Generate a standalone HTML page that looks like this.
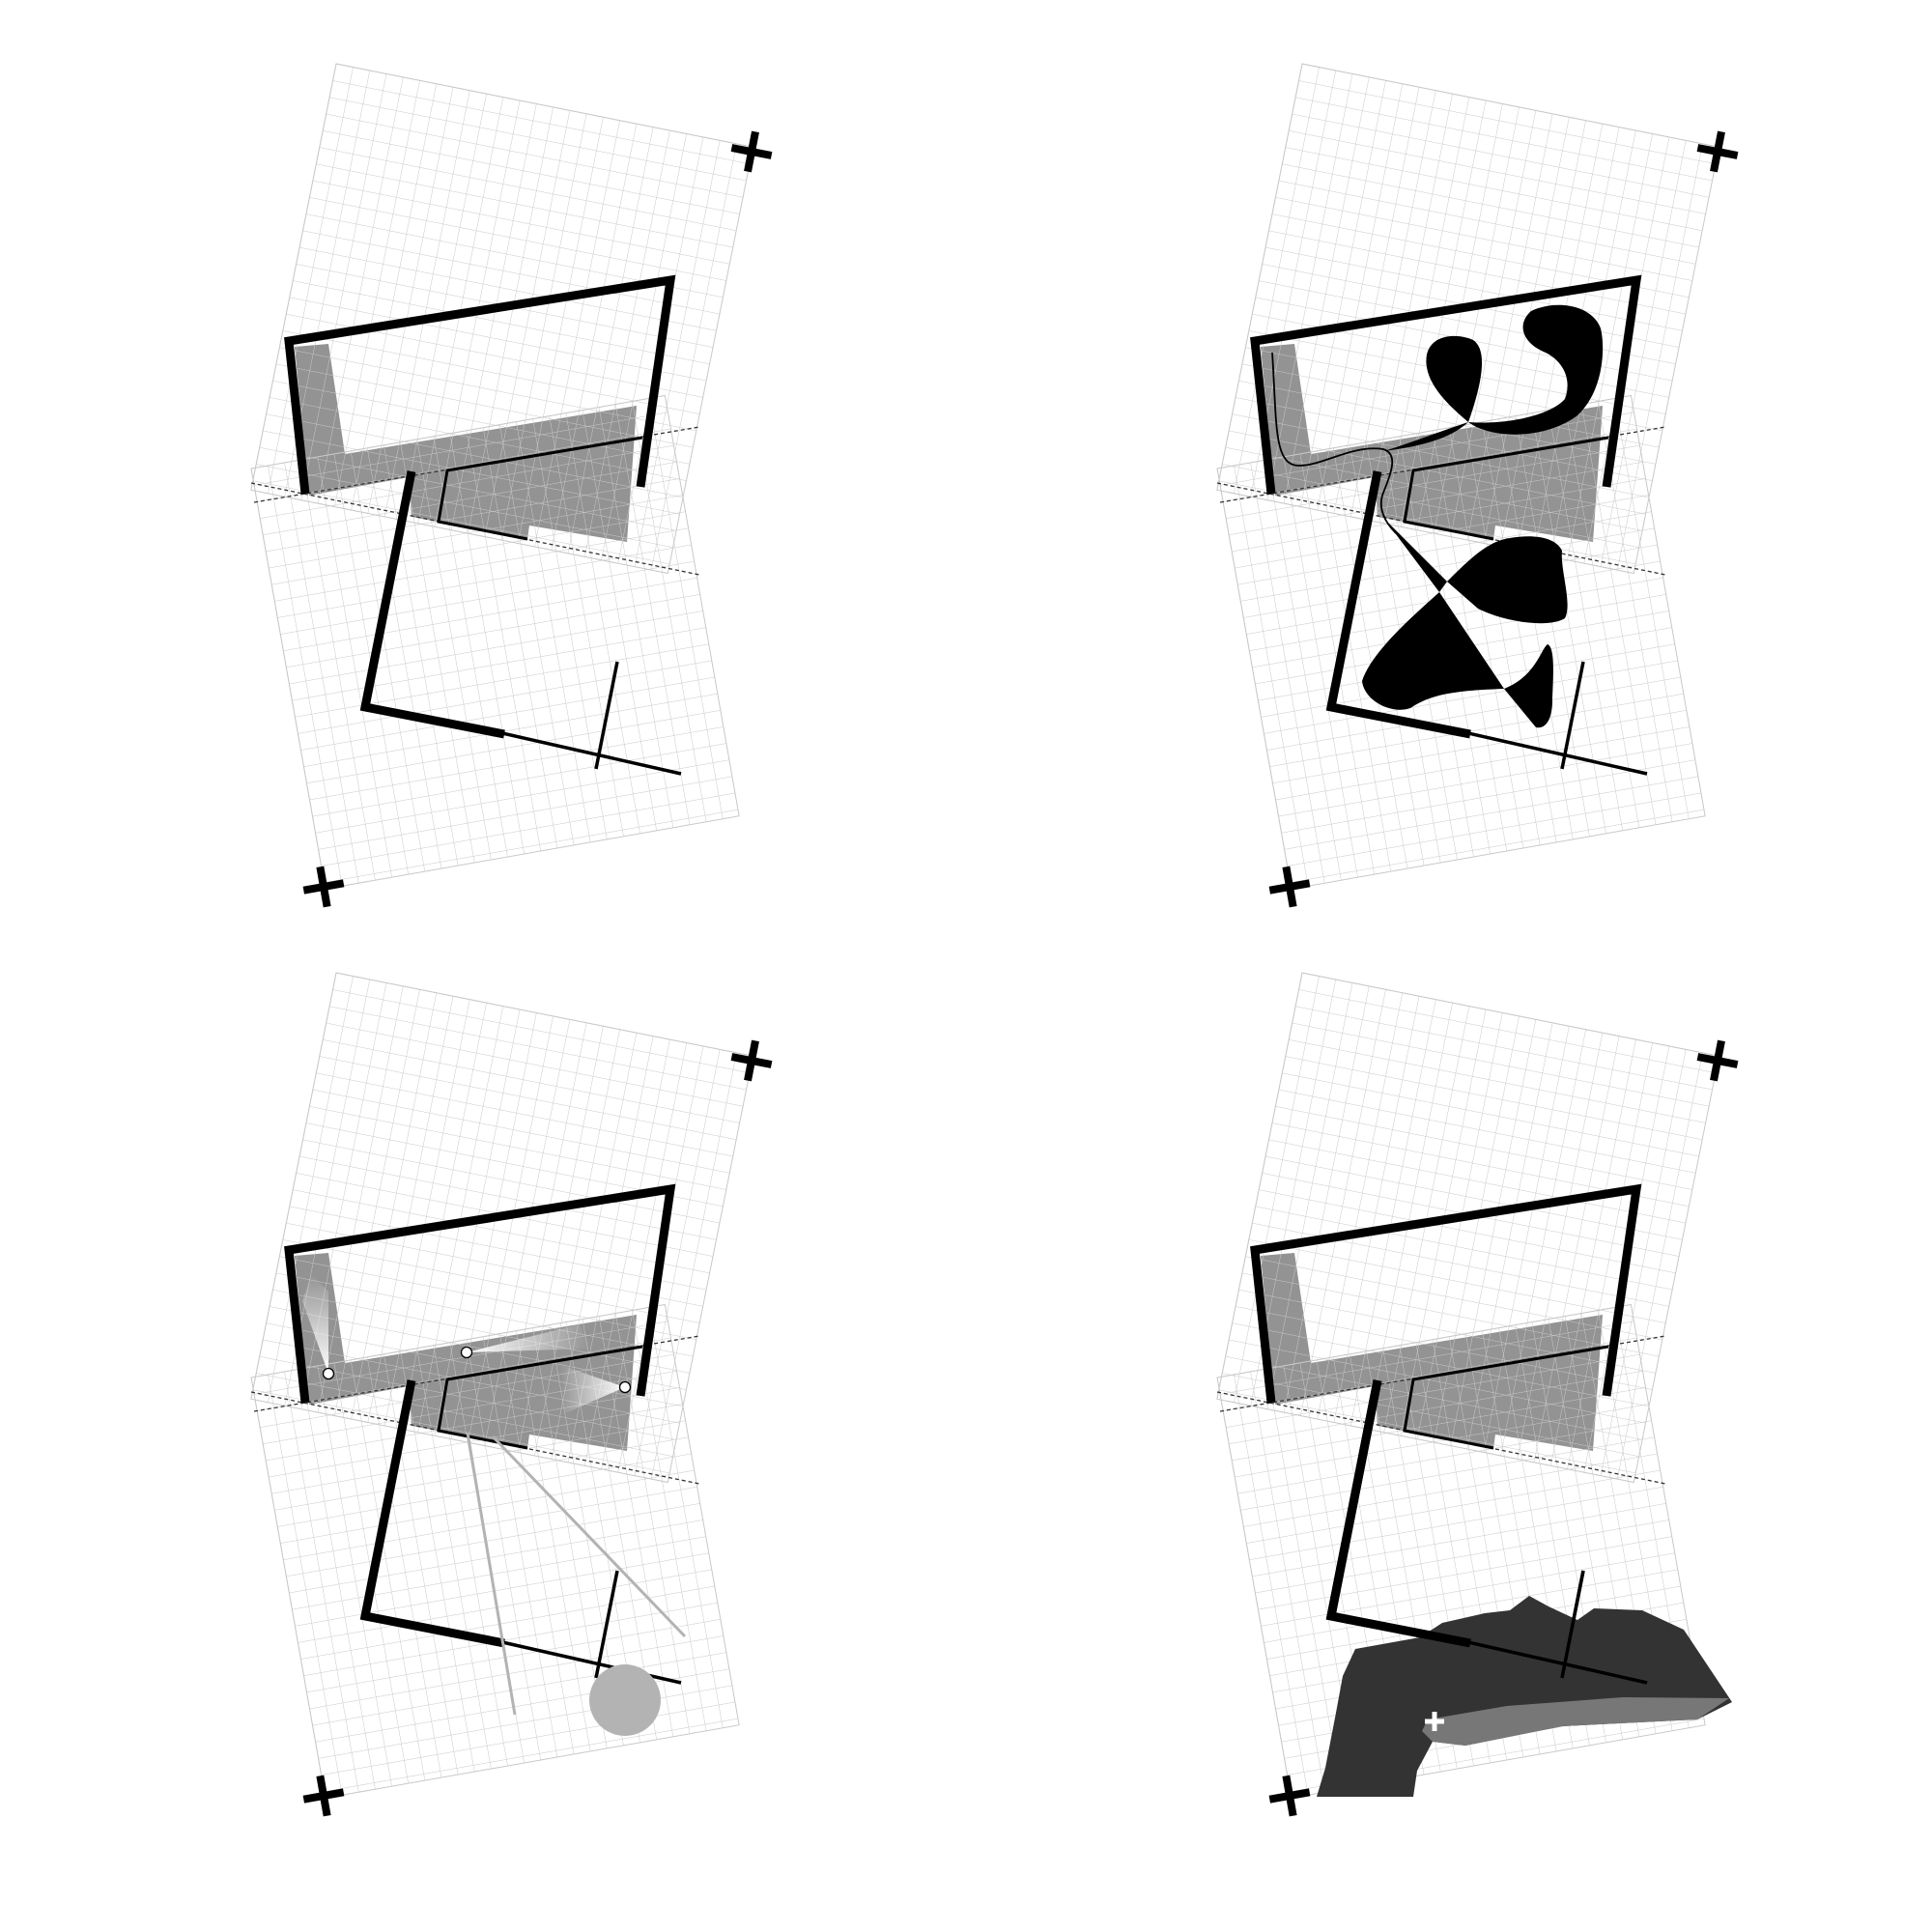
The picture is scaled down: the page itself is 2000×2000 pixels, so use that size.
<!DOCTYPE html>
<html><head><meta charset="utf-8"><style>html,body{margin:0;padding:0;background:#fff}svg{display:block}</style></head>
<body>
<svg width="2000" height="2000" viewBox="0 0 2000 2000" xmlns="http://www.w3.org/2000/svg">
<defs>
<pattern id="gA" width="17.6" height="17.6" patternUnits="userSpaceOnUse"><path d="M0 0H17.6M0 0V17.6" stroke="#c8c8c8" stroke-width="1" fill="none"/></pattern>
<pattern id="gB" width="17.4" height="17.4" patternUnits="userSpaceOnUse"><path d="M0 0H17.4M0 0V17.4" stroke="#c8c8c8" stroke-width="1" fill="none"/></pattern>
<linearGradient id="wg1" x1="0" y1="1" x2="0" y2="0"><stop offset="0" stop-color="#fff"/><stop offset="1" stop-color="#fff" stop-opacity="0"/></linearGradient>
<linearGradient id="wg2" x1="0" y1="0" x2="1" y2="0"><stop offset="0" stop-color="#fff"/><stop offset="1" stop-color="#fff" stop-opacity="0"/></linearGradient>
<linearGradient id="wg3" x1="1" y1="0" x2="0" y2="0"><stop offset="0" stop-color="#fff"/><stop offset="1" stop-color="#fff" stop-opacity="0"/></linearGradient>
<g id="base">
  <polygon points="305,359 340,356 357,470 659,420 649,561 548,544 546,558 426,535 423,494 320,513" fill="#939393"/>
  <g transform="translate(348,66) rotate(11.3)"><rect width="440" height="450" fill="url(#gA)" stroke="#c8c8c8"/></g>
  <g transform="translate(260,485) rotate(-10)"><rect width="435" height="442" fill="url(#gB)" stroke="#c8c8c8"/></g>
  <line x1="263" y1="520" x2="724" y2="442" stroke="#333" stroke-width="1.3" stroke-dasharray="4,3"/>
  <line x1="260" y1="500" x2="724" y2="595" stroke="#333" stroke-width="1.3" stroke-dasharray="4,3"/>
  <polyline points="316,511 299,353 694,290 663,504" fill="none" stroke="#000" stroke-width="9" stroke-linejoin="miter"/>
  <polyline points="426,488 378,732 522,760" fill="none" stroke="#000" stroke-width="9"/>
  <line x1="520" y1="759" x2="705" y2="801" stroke="#000" stroke-width="3.5"/>
  <line x1="639" y1="685" x2="617" y2="796" stroke="#000" stroke-width="3.5"/>
  <polyline points="665,453 463,487 454,540 546,558" fill="none" stroke="#000" stroke-width="3"/>
  <g transform="translate(778,157) rotate(11)"><rect x="-21" y="-4" width="42" height="8"/><rect x="-4" y="-21" width="8" height="42"/></g>
  <g transform="translate(335,918) rotate(-10)"><rect x="-21" y="-4" width="42" height="8"/><rect x="-4" y="-21" width="8" height="42"/></g>
</g>
</defs>

<use href="#base"/>

<g transform="translate(1000,0)">
<use href="#base"/>
<path d="M520,437 C500,420 472,395 477,367 C482,345 510,345 525,352 C540,362 535,395 520,437 Z"/>
<path d="M520,437 C545,455 600,455 633,430 C660,405 662,360 657,340 C648,315 610,310 585,322 C570,335 575,355 600,365 C620,375 627,395 620,413 C605,430 560,440 520,437 C495,445 470,455 433,467 C470,462 500,455 520,437 Z"/>
<path d="M317,365 C322,440 318,482 345,482 C370,482 400,460 432,465 C448,470 440,490 432,510 C426,525 433,540 445,552" fill="none" stroke="#000" stroke-width="1.8"/>
<polygon points="433,537 498,602 490,613"/>
<path d="M498,602 C520,580 540,560 563,557 C585,553 610,555 617,570 C615,590 628,625 620,640 C605,650 560,645 530,630 Z"/>
<path d="M490,613 C460,640 420,675 410,705 C412,725 440,740 460,733 C480,720 500,715 557,713 Z"/>
<path d="M557,713 L590,753 C600,755 607,745 607,725 C608,700 610,670 602,667 C595,672 590,700 557,713 Z"/>
</g>

<g transform="translate(0,941)">
<use href="#base"/>
<polygon points="340,481 313,406 322,378 340,396" fill="url(#wg1)"/>
<polygon points="483,459 600,430 612,455" fill="url(#wg2)"/>
<polygon points="647,495 580,472 585,522" fill="url(#wg3)"/>
<circle cx="340" cy="481" r="5.5" fill="#fff" stroke="#000" stroke-width="1.3"/>
<circle cx="483" cy="459" r="5.5" fill="#fff" stroke="#000" stroke-width="1.3"/>
<circle cx="647" cy="495" r="5.5" fill="#fff" stroke="#000" stroke-width="1.3"/>
<line x1="484" y1="542" x2="533" y2="834" stroke="#b3b3b3" stroke-width="3"/>
<line x1="510" y1="546" x2="709" y2="753" stroke="#b3b3b3" stroke-width="3"/>
<circle cx="647" cy="819" r="37" fill="#b3b3b3"/>
</g>

<g transform="translate(1000,941)">
<use href="#base"/>
</g>
<polygon points="1403,1707 1470,1695 1493,1680 1537,1670 1563,1667 1583,1652 1603,1663 1633,1677 1650,1665 1700,1667 1743,1687 1793,1762 1757,1780 1617,1787 1517,1807 1483,1803 1467,1833 1463,1860 1363,1860 1372,1830 1383,1773 1390,1735" fill="#333"/>
<polygon points="1478,1780 1560,1766 1680,1757 1790,1758 1757,1780 1617,1787 1517,1807 1483,1803 1472,1792" fill="#777"/>
<g transform="translate(1000,941)">
<polyline points="426,488 378,732 522,760" fill="none" stroke="#000" stroke-width="9"/>
<line x1="520" y1="759" x2="705" y2="801" stroke="#000" stroke-width="3.5"/>
<line x1="639" y1="685" x2="617" y2="796" stroke="#000" stroke-width="3.5"/>
</g>
<g transform="translate(1485,1782)" fill="#fff"><rect x="-10" y="-2.5" width="20" height="5"/><rect x="-2.5" y="-10" width="5" height="20"/></g>
</svg>
</body></html>
